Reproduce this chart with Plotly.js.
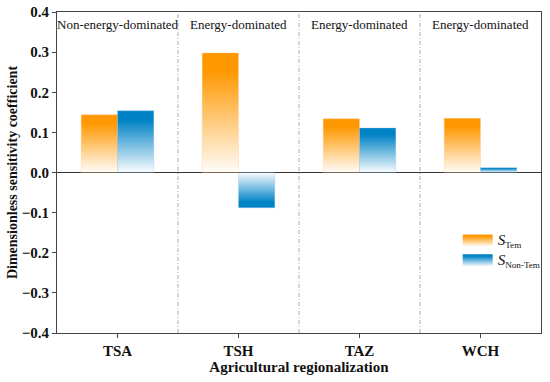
<!DOCTYPE html>
<html>
<head>
<meta charset="utf-8">
<script src="https://cdn.plot.ly/plotly-3.0.1.min.js"></script>
<style>html,body{margin:0;padding:0;background:#fff;}#chart{width:550px;height:382px;}</style>
</head>
<body>
<div id="chart"></div>
<script>
var categories = ['TSA', 'TSH', 'TAZ', 'WCH'];
var sTem = [0.144, 0.298, 0.134, 0.135];
var sNonTem = [0.154, -0.088, 0.111, 0.012];
var regionLabels = ['Non-energy-dominated', 'Energy-dominated', 'Energy-dominated', 'Energy-dominated'];
var yTicks = [-0.4, -0.3, -0.2, -0.1, 0.0, 0.1, 0.2, 0.3, 0.4];

var FF = 'Liberation Serif';
var orange = 'rgb(255,152,0)';
var blue = 'rgb(0,130,198)';

var traces = [
  {type: 'bar', x: categories, y: sTem, name: '<span style="font-size:15px"><i>S</i></span><sub>Tem</sub>',
   marker: {color: orange, line: {color: 'rgba(255,200,150,0.6)', width: 0.6}}},
  {type: 'bar', x: categories, y: sNonTem, name: '<span style="font-size:15px"><i>S</i></span><sub>Non-Tem</sub>',
   marker: {color: blue, line: {color: 'rgba(150,200,235,0.6)', width: 0.6}}}
];

var shapes = [];
for (var i = 0; i < categories.length - 1; i++) {
  shapes.push({type: 'line', xref: 'x', yref: 'paper', x0: i + 0.5, x1: i + 0.5, y0: 0, y1: 1,
    line: {color: '#aaa', width: 1, dash: '4px,2px,1px,2px'}});
}
var annotations = categories.map(function (c, i) {
  return {x: c, y: 1, xref: 'x', yref: 'paper', yanchor: 'top', yshift: -3, text: regionLabels[i],
    showarrow: false, font: {family: FF, size: 13, color: '#111'}};
});

var layout = {
  width: 550, height: 382,
  font: {family: FF, color: '#111'},
  margin: {l: 57, r: 8, t: 12, b: 49},
  paper_bgcolor: '#fff', plot_bgcolor: '#fff',
  barmode: 'group', bargap: 0.4, bargroupgap: 0,
  showlegend: true,
  legend: {x: 0.82, y: 0.335, xanchor: 'left', yanchor: 'top', bgcolor: 'rgba(0,0,0,0)',
    font: {family: FF, size: 13, color: '#111'}, tracegroupgap: 0},
  xaxis: {
    type: 'category', range: [-0.5, 3.5],
    showline: true, linecolor: '#444', linewidth: 1, mirror: true,
    ticks: 'outside', ticklen: 4, tickcolor: '#444',
    tickfont: {family: FF, size: 15, color: '#111', weight: 'bold'},
    title: {text: '<b>Agricultural regionalization</b>', font: {family: FF, size: 15, color: '#111'}, standoff: 3},
    showgrid: false, zeroline: false
  },
  yaxis: {
    range: [-0.4, 0.4], tickvals: yTicks, tickformat: '.1f',
    showline: true, linecolor: '#444', linewidth: 1, mirror: true,
    ticks: 'outside', ticklen: 4, tickcolor: '#444',
    tickfont: {family: FF, size: 15, color: '#111', weight: 'bold'},
    title: {text: '<b>Dimensionless sensitivity coefficient</b>', font: {family: FF, size: 14, color: '#111'}, standoff: 0},
    showgrid: false, zeroline: true, zerolinecolor: '#333', zerolinewidth: 1
  },
  shapes: shapes,
  annotations: annotations
};

function addGradients(gd) {
  var svg = gd.querySelector('.main-svg');
  var defs = svg.querySelector('defs');
  var ns = 'http://www.w3.org/2000/svg';
  function mk(id, color, up) {
    var g = document.createElementNS(ns, 'linearGradient');
    g.setAttribute('id', id);
    g.setAttribute('x1', '0'); g.setAttribute('x2', '0');
    g.setAttribute('y1', up ? '0' : '1'); g.setAttribute('y2', up ? '1' : '0');
    [[0, color, 1], [0.15, color, 1], [1, color, 0.02]].forEach(function (s) {
      var st = document.createElementNS(ns, 'stop');
      st.setAttribute('offset', s[0]);
      st.setAttribute('stop-color', s[1]);
      st.setAttribute('stop-opacity', s[2]);
      g.appendChild(st);
    });
    defs.appendChild(g);
  }
  mk('gOU', orange, true); mk('gOD', orange, false);
  mk('gBU', blue, true); mk('gBD', blue, false);
  var data = [sTem, sNonTem];
  var pref = ['gO', 'gB'];
  var groups = gd.querySelectorAll('.barlayer .trace.bars');
  groups.forEach(function (grp, ti) {
    grp.querySelectorAll('.point path').forEach(function (p, pi) {
      p.style.fill = 'url(#' + pref[ti] + (data[ti][pi] >= 0 ? 'U' : 'D') + ')';
      p.style.fillOpacity = 1;
    });
  });
  var legTr = gd.querySelectorAll('.legend .traces');
  legTr.forEach(function (lt, ti) {
    lt.querySelectorAll('.legendpoints path').forEach(function (p) {
      p.setAttribute('d', 'M15,6H-15V-6H15Z');
      p.style.fill = 'url(#' + pref[ti] + 'U)';
      p.style.fillOpacity = 1;
      p.style.strokeWidth = '0';
    });
  });
  var leg = gd.querySelector('g.legend');
  if (leg) {
    var t = leg.getAttribute('transform') || '';
    var m = t.match(/translate\(\s*([-\d.]+)[ ,]+([-\d.]+)\s*\)/);
    if (m) leg.setAttribute('transform', 'translate(' + (parseFloat(m[1]) + 3) + ',' + m[2] + ')');
  }
}

Plotly.newPlot('chart', traces, layout, {staticPlot: true}).then(addGradients);
</script>
</body>
</html>
